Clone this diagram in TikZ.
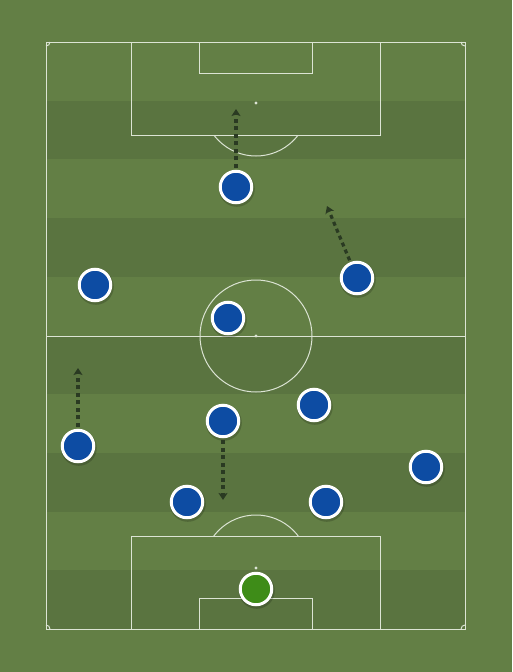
\documentclass[tikz,border=0pt]{standalone}
\usetikzlibrary{arrows.meta}
\definecolor{grassA}{HTML}{637F45}
\definecolor{grassB}{HTML}{5A7440}
\definecolor{pline}{HTML}{DCE4D4}
\definecolor{pblue}{HTML}{0D4CA3}
\definecolor{pgreen}{HTML}{3E8C18}
\definecolor{runc}{HTML}{2A3A22}
\begin{document}
\begin{tikzpicture}[x=1pt,y=-1pt,
  pitchline/.style={draw=pline,line width=1pt},
  player/.style={circle,draw=white,line width=3pt,fill=pblue,minimum size=31.5pt,inner sep=0pt},
  keeper/.style={player,fill=pgreen},
  run/.style={draw=runc,line width=3.2pt,dash pattern=on 4pt off 3.5pt,-{Stealth[length=7pt,width=9pt,inset=1.5pt]},shorten <=2pt},
  shadowc/.style={fill=black,opacity=0.18}]
\useasboundingbox (0,0) rectangle (512,672);
\fill[grassA] (0,0) rectangle (512,672);
% stripes
\foreach \i in {1,3,5,7,9}{
  \fill[grassB] (46,{42+\i*58.7}) rectangle (465,{42+(\i+1)*58.7});
}
% pitch lines
\draw[pitchline] (46,42) rectangle (465,629);
\draw[pitchline] (46,336) -- (465,336);
\draw[pitchline] (256,336) circle (56);
\fill[pline] (256,336) circle (1.6);
% top boxes
\draw[pitchline] (131,42) rectangle (380,135);
\draw[pitchline] (199,42) rectangle (312,73);
\fill[pline] (256,103) circle (1.6);
\begin{scope}
  \clip (46,135) rectangle (465,200);
  \draw[pitchline] (256,103) circle (53);
\end{scope}
% bottom boxes
\draw[pitchline] (131,536) rectangle (380,629);
\draw[pitchline] (199,598) rectangle (312,629);
\fill[pline] (256,568) circle (1.6);
\begin{scope}
  \clip (46,470) rectangle (465,536);
  \draw[pitchline] (256,568) circle (53);
\end{scope}
% corner arcs
\draw[pitchline] (50,42) arc[start angle=0,end angle=90,radius=4];
\draw[pitchline] (461,42) arc[start angle=180,end angle=90,radius=4];
\draw[pitchline] (50,629) arc[start angle=0,end angle=-90,radius=4];
\draw[pitchline] (461,629) arc[start angle=180,end angle=270,radius=4];
% shadows
\foreach \x/\y in {236/187,357/278,95/285,228/318,314/405,223/421,78/446,426/467,187/502,326/502,256/589}{
  \fill[shadowc] (\x+0.8,\y+1.8) circle (18);
}
% players
\node[player] (p1) at (236,187) {};
\node[player] (p2) at (357,278) {};
\node[player] (p3) at (95,285) {};
\node[player] (p4) at (228,318) {};
\node[player] (p5) at (314,405) {};
\node[player] (p6) at (223,421) {};
\node[player] (p7) at (78,446) {};
\node[player] (p8) at (426,467) {};
\node[player] (p9) at (187,502) {};
\node[player] (p10) at (326,502) {};
\node[keeper] (gk) at (256,589) {};
% runs
\coordinate (t1) at (236,109);
\coordinate (t2) at (327,206);
\coordinate (t7) at (78,368);
\coordinate (t6) at (223,500);
\draw[run] (p1) -- (t1);
\draw[run] (p2) -- (t2);
\draw[run] (p7) -- (t7);
\draw[run] (p6) -- (t6);
\end{tikzpicture}
\end{document}
